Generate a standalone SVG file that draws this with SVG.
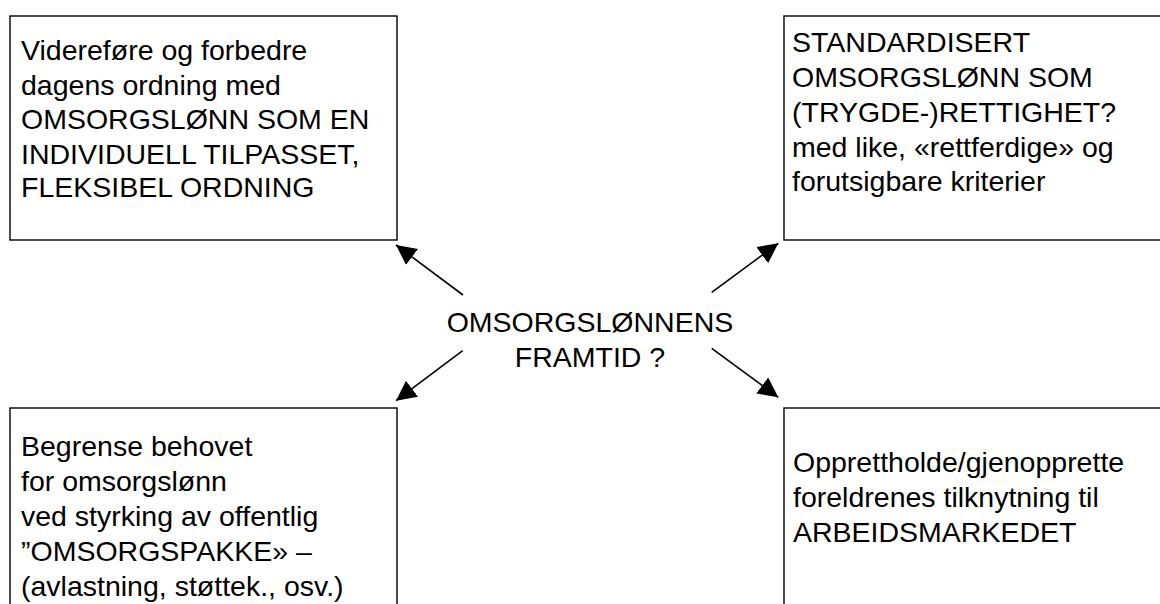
<svg xmlns="http://www.w3.org/2000/svg" width="1160" height="604" viewBox="0 0 1160 604">
<style>
.box{fill:#fff;stroke:#000;stroke-width:1.4}
.t{font-family:"Liberation Sans",Arial,sans-serif;font-size:28.5px;fill:#000}
.c{text-anchor:middle}
.arr{stroke:#000;stroke-width:1.6;fill:none;marker-end:url(#ah)}
</style>
<defs>
<marker id="ah" markerUnits="userSpaceOnUse" markerWidth="21" markerHeight="21" refX="20" refY="10" orient="auto" viewBox="0 0 21 21">
<path d="M0,0 L20,10 L0,20 Z" fill="#000"/>
</marker>
</defs>
<rect width="1160" height="604" fill="#fff"/>
<g id="node-top-left">
<rect class="box" x="10" y="16" width="387" height="224"/>
<text class="t" x="21" y="60">Videreføre og forbedre</text>
<text class="t" x="21" y="94.5">dagens ordning med</text>
<text class="t" x="21" y="129">OMSORGSLØNN SOM EN</text>
<text class="t" x="21" y="163.5">INDIVIDUELL TILPASSET,</text>
<text class="t" x="21" y="197">FLEKSIBEL ORDNING</text>
</g>
<g id="node-top-right">
<rect class="box" x="784" y="16" width="400" height="224"/>
<text class="t" x="792" y="51.7">STANDARDISERT</text>
<text class="t" x="792" y="86.5">OMSORGSLØNN SOM</text>
<text class="t" x="792" y="121.5">(TRYGDE-)RETTIGHET?</text>
<text class="t" x="792" y="156.5">med like, «rettferdige» og</text>
<text class="t" x="792" y="191">forutsigbare kriterier</text>
</g>
<g id="node-bottom-left">
<rect class="box" x="10" y="408" width="387" height="220"/>
<text class="t" x="21" y="455.7">Begrense behovet</text>
<text class="t" x="21" y="490.5">for omsorgslønn</text>
<text class="t" x="21" y="525.5">ved styrking av offentlig</text>
<text class="t" x="21" y="560.5">”OMSORGSPAKKE» –</text>
<text class="t" x="21" y="595.5">(avlastning, støttek., osv.)</text>
</g>
<g id="node-bottom-right">
<rect class="box" x="784" y="408" width="400" height="220"/>
<text class="t" x="793" y="471.7">Opprettholde/gjenopprette</text>
<text class="t" x="793" y="506.7">foreldrenes tilknytning til</text>
<text class="t" x="793" y="541.7">ARBEIDSMARKEDET</text>
</g>
<g id="node-center">
<text class="t c" x="590" y="331.7">OMSORGSLØNNENS</text>
<text class="t c" x="590" y="366.7">FRAMTID ?</text>
</g>
<g id="connectors">
<line class="arr" x1="463" y1="295" x2="396" y2="245"/>
<line class="arr" x1="711.7" y1="292.3" x2="778.3" y2="243.3"/>
<line class="arr" x1="462.7" y1="350.7" x2="396" y2="400.7"/>
<line class="arr" x1="711.7" y1="348.3" x2="778.3" y2="397.3"/>
</g>
</svg>
